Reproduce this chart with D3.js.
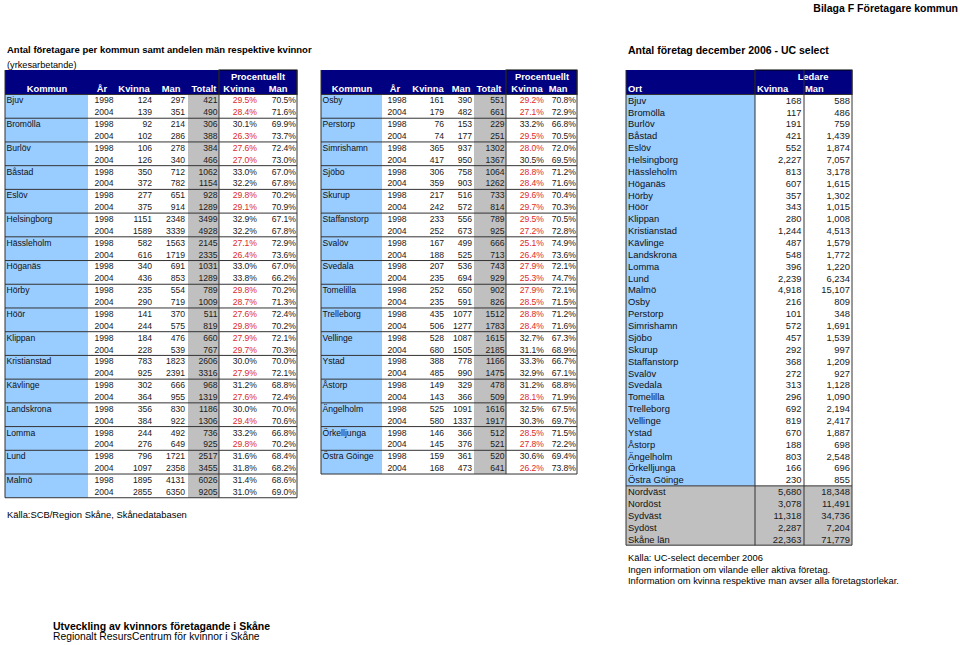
<!DOCTYPE html>
<html>
<head>
<meta charset="utf-8">
<title>Bilaga F Företagare kommun</title>
<script src="https://d3js.org/d3.v7.min.js"></script>
<style>
  body { margin: 0; background: #fff; }
  svg { display: block; font-family: "Liberation Sans", Arial, sans-serif; }
</style>
</head>
<body>
<div id="chart"></div>
<script>
// --- data: företagare per kommun (1998 / 2004 pairs) ---
var years = ["1998", "2004"];

var kommunerA = ["Bjuv", "Bromölla", "Burlöv", "Båstad", "Eslöv", "Helsingborg", "Hässleholm", "Höganäs",
  "Hörby", "Höör", "Klippan", "Kristianstad", "Kävlinge", "Landskrona", "Lomma", "Lund", "Malmö"];
var kvinnaA = [124, 139, 92, 102, 106, 126, 350, 372, 277, 375, 1151, 1589, 582, 616, 340, 436,
  235, 290, 141, 244, 184, 228, 783, 925, 302, 364, 356, 384, 244, 276, 796, 1097, 1895, 2855];
var manA = [297, 351, 214, 286, 278, 340, 712, 782, 651, 914, 2348, 3339, 1563, 1719, 691, 853,
  554, 719, 370, 575, 476, 539, 1823, 2391, 666, 955, 830, 922, 492, 649, 1721, 2358, 4131, 6350];
var totaltA = [421, 490, 306, 388, 384, 466, 1062, 1154, 928, 1289, 3499, 4928, 2145, 2335, 1031, 1289,
  789, 1009, 511, 819, 660, 767, 2606, 3316, 968, 1319, 1186, 1306, 736, 925, 2517, 3455, 6026, 9205];
var pctKvinnaA = [29.5, 28.4, 30.1, 26.3, 27.6, 27.0, 33.0, 32.2, 29.8, 29.1, 32.9, 32.2, 27.1, 26.4, 33.0, 33.8,
  29.8, 28.7, 27.6, 29.8, 27.9, 29.7, 30.0, 27.9, 31.2, 27.6, 30.0, 29.4, 33.2, 29.8, 31.6, 31.8, 31.4, 31.0];
var pctManA = [70.5, 71.6, 69.9, 73.7, 72.4, 73.0, 67.0, 67.8, 70.2, 70.9, 67.1, 67.8, 72.9, 73.6, 67.0, 66.2,
  70.2, 71.3, 72.4, 70.2, 72.1, 70.3, 70.0, 72.1, 68.8, 72.4, 70.0, 70.6, 66.8, 70.2, 68.4, 68.2, 68.6, 69.0];

var kommunerB = ["Osby", "Perstorp", "Simrishamn", "Sjöbo", "Skurup", "Staffanstorp", "Svalöv", "Svedala",
  "Tomelilla", "Trelleborg", "Vellinge", "Ystad", "Åstorp", "Ängelholm", "Örkelljunga", "Östra Göinge"];
var kvinnaB = [161, 179, 76, 74, 365, 417, 306, 359, 217, 242, 233, 252, 167, 188, 207, 235,
  252, 235, 435, 506, 528, 680, 388, 485, 149, 143, 525, 580, 146, 145, 159, 168];
var manB = [390, 482, 153, 177, 937, 950, 758, 903, 516, 572, 556, 673, 499, 525, 536, 694,
  650, 591, 1077, 1277, 1087, 1505, 778, 990, 329, 366, 1091, 1337, 366, 376, 361, 473];
var totaltB = [551, 661, 229, 251, 1302, 1367, 1064, 1262, 733, 814, 789, 925, 666, 713, 743, 929,
  902, 826, 1512, 1783, 1615, 2185, 1166, 1475, 478, 509, 1616, 1917, 512, 521, 520, 641];
var pctKvinnaB = [29.2, 27.1, 33.2, 29.5, 28.0, 30.5, 28.8, 28.4, 29.6, 29.7, 29.5, 27.2, 25.1, 26.4, 27.9, 25.3,
  27.9, 28.5, 28.8, 28.4, 32.7, 31.1, 33.3, 32.9, 31.2, 28.1, 32.5, 30.3, 28.5, 27.8, 30.6, 26.2];
var pctManB = [70.8, 72.9, 66.8, 70.5, 72.0, 69.5, 71.2, 71.6, 70.4, 70.3, 70.5, 72.8, 74.9, 73.6, 72.1, 74.7,
  72.1, 71.5, 71.2, 71.6, 67.3, 68.9, 66.7, 67.1, 68.8, 71.9, 67.5, 69.7, 71.5, 72.2, 69.4, 73.8];

// --- data: UC select, ledare december 2006 ---
var orter = ["Bjuv", "Bromölla", "Burlöv", "Båstad", "Eslöv", "Helsingborg", "Hässleholm", "Höganäs", "Hörby",
  "Höör", "Klippan", "Kristianstad", "Kävlinge", "Landskrona", "Lomma", "Lund", "Malmö", "Osby", "Perstorp",
  "Simrishamn", "Sjöbo", "Skurup", "Staffanstorp", "Svalöv", "Svedala", "Tomelilla", "Trelleborg", "Vellinge",
  "Ystad", "Åstorp", "Ängelholm", "Örkelljunga", "Östra Göinge"];
var ledareKvinna = [168, 117, 191, 421, 552, 2227, 813, 607, 357, 343, 280, 1244, 487, 548, 396, 2239, 4918,
  216, 101, 572, 457, 292, 368, 272, 313, 296, 692, 819, 670, 188, 803, 166, 230];
var ledareMan = [588, 486, 759, 1439, 1874, 7057, 3178, 1615, 1302, 1015, 1008, 4513, 1579, 1772, 1220, 6234,
  15107, 809, 348, 1691, 1539, 997, 1209, 927, 1128, 1090, 2194, 2417, 1887, 698, 2548, 696, 855];
var regioner = ["Nordväst", "Nordöst", "Sydväst", "Sydöst", "Skåne län"];
var regionKvinna = [5680, 3078, 11318, 2287, 22363];
var regionMan = [18348, 11491, 34736, 7204, 71779];

// --- layout ---
var NAVY = "#000080", BLUE = "#99ccff", GRAY = "#c0c0c0", RED = "#dd2a2a", INK = "#1a1a1a";
var ROW_TOP = 94.5, ROW_H = 11.86, HEAD_TOP = 70;

var svg = d3.select("#chart").append("svg")
  .attr("width", 960).attr("height", 645);

svg.append("rect").attr("width", 960).attr("height", 645).attr("fill", "#fff");

function txt(g, x, y, s, size, anchor, weight, fill) {
  return g.append("text")
    .attr("x", x).attr("y", y).attr("dy", "0.35em")
    .attr("font-size", size)
    .attr("text-anchor", anchor || "start")
    .attr("font-weight", weight || "normal")
    .attr("fill", fill || INK)
    .text(s);
}

var fmtPct = function(v) { return d3.format(".1f")(v) + "%"; };
var fmtNum = d3.format(",");

function drawKommunTable(c, names, kv, man, tot, pk, pm) {
  var rows = names.length * 2;
  var y = d3.scaleLinear().domain([0, rows]).range([ROW_TOP, ROW_TOP + rows * ROW_H]);
  var g = svg.append("g");

  // header
  g.append("rect").attr("x", c.x0).attr("y", HEAD_TOP)
    .attr("width", c.x1 - c.x0).attr("height", ROW_TOP - HEAD_TOP).attr("fill", NAVY);
  g.append("rect").attr("x", c.totR).attr("y", HEAD_TOP)
    .attr("width", c.x1 - c.totR).attr("height", ROW_TOP - HEAD_TOP)
    .attr("fill", "none").attr("stroke", "#000").attr("stroke-width", 1);
  txt(g, c.h.proc, 77, "Procentuellt", 9.4, "middle", "bold", "#fff");
  var heads = [["Kommun", c.h.kommun], ["År", c.h.ar], ["Kvinna", c.h.kv], ["Man", c.h.man],
    ["Totalt", c.h.tot], ["Kvinna", c.h.pk], ["Man", c.h.pm]];
  heads.forEach(function(h) { txt(g, h[1], 89, h[0], 9.4, "middle", "bold", "#fff"); });

  // body fills
  g.append("rect").attr("x", c.x0).attr("y", y(0))
    .attr("width", c.nameR - c.x0).attr("height", y(rows) - y(0)).attr("fill", BLUE);
  g.append("rect").attr("x", c.totL).attr("y", y(0))
    .attr("width", c.totR - c.totL).attr("height", y(rows) - y(0)).attr("fill", GRAY);

  // group separators
  g.selectAll("line.grp").data(d3.range(names.length + 1)).join("line")
    .attr("x1", c.x0).attr("x2", c.x1)
    .attr("y1", function(i) { return y(i * 2); }).attr("y2", function(i) { return y(i * 2); })
    .attr("stroke", "#333").attr("stroke-width", 1);
  [c.x0, c.totR, c.x1].forEach(function(x) {
    g.append("line").attr("x1", x).attr("x2", x).attr("y1", HEAD_TOP).attr("y2", y(rows))
      .attr("stroke", "#333").attr("stroke-width", 1);
  });

  // names
  names.forEach(function(n, i) {
    txt(g, c.x0 + 1.5, y(i * 2) + ROW_H / 2, n, 8.6, "start", "normal", "#111");
  });

  d3.range(rows).forEach(function(i) {
    var cy = y(i) + ROW_H / 2;
    txt(g, c.yearC, cy, years[i % 2], 8.6, "middle");
    txt(g, c.kvR, cy, kv[i], 8.6, "end");
    txt(g, c.manR, cy, man[i], 8.6, "end");
    txt(g, c.totR - 1.5, cy, tot[i], 8.6, "end");
    txt(g, c.pkR, cy, fmtPct(pk[i]), 8.6, "end", "normal", pk[i] < 30 ? RED : INK);
    txt(g, c.pmR, cy, fmtPct(pm[i]), 8.6, "end");
  });
}

drawKommunTable({
  x0: 5, nameR: 88, yearC: 104, kvR: 152, manR: 185, totL: 188, totR: 219, pkR: 257, pmR: 296, x1: 297,
  h: { proc: 258, kommun: 47, ar: 102, kv: 134, man: 171, tot: 204, pk: 239, pm: 278 }
}, kommunerA, kvinnaA, manA, totaltA, pctKvinnaA, pctManA);

drawKommunTable({
  x0: 321, nameR: 382, yearC: 397, kvR: 444, manR: 472, totL: 474, totR: 506, pkR: 544, pmR: 576, x1: 577,
  h: { proc: 542, kommun: 352, ar: 395, kv: 428, man: 461, tot: 489, pk: 527, pm: 558 }
}, kommunerB, kvinnaB, manB, totaltB, pctKvinnaB, pctManB);

// --- right table ---
(function() {
  var x0 = 626, xk = 755, xm = 804, x1 = 852;
  var nO = orter.length, rows = nO + regioner.length;
  var y = d3.scaleLinear().domain([0, rows]).range([ROW_TOP, ROW_TOP + rows * ROW_H]);
  var g = svg.append("g");

  g.append("rect").attr("x", x0).attr("y", HEAD_TOP)
    .attr("width", x1 - x0).attr("height", ROW_TOP - HEAD_TOP).attr("fill", NAVY);
  g.append("rect").attr("x", xk).attr("y", HEAD_TOP)
    .attr("width", x1 - xk).attr("height", ROW_TOP - HEAD_TOP)
    .attr("fill", "none").attr("stroke", "#000");
  txt(g, 813, 77, "Ledare", 9.4, "middle", "bold", "#fff");
  txt(g, 628, 89, "Ort", 9.4, "start", "bold", "#fff");
  txt(g, 757, 89, "Kvinna", 9.4, "start", "bold", "#fff");
  txt(g, 805, 89, "Man", 9.4, "start", "bold", "#fff");

  g.append("rect").attr("x", x0).attr("y", y(0))
    .attr("width", xk - x0).attr("height", y(nO) - y(0)).attr("fill", BLUE);
  g.append("rect").attr("x", x0).attr("y", y(nO))
    .attr("width", x1 - x0).attr("height", y(rows) - y(nO)).attr("fill", GRAY);

  [x0, xk, xm, x1].forEach(function(x) {
    g.append("line").attr("x1", x).attr("x2", x).attr("y1", HEAD_TOP).attr("y2", y(rows))
      .attr("stroke", "#333");
  });
  [0, nO, rows].forEach(function(r) {
    g.append("line").attr("x1", x0).attr("x2", x1).attr("y1", y(r)).attr("y2", y(r))
      .attr("stroke", "#333");
  });

  var names = orter.concat(regioner),
    kv = ledareKvinna.concat(regionKvinna),
    man = ledareMan.concat(regionMan);
  d3.range(rows).forEach(function(i) {
    var cy = y(i) + ROW_H / 2;
    txt(g, 628, cy, names[i], 9.4, "start", "normal", "#111");
    txt(g, 801.5, cy, fmtNum(kv[i]), 9.4, "end");
    txt(g, 850, cy, fmtNum(man[i]), 9.4, "end");
  });
})();

// --- titles and notes ---
txt(svg, 958, 8, "Bilaga F Företagare kommun", 10.5, "end", "bold", "#000");
txt(svg, 7, 50, "Antal företagare per kommun samt andelen män respektive kvinnor", 9.5, "start", "bold", "#000");
txt(svg, 7, 65, "(yrkesarbetande)", 9.2, "start", "normal", "#000");
txt(svg, 628, 50, "Antal företag december 2006 - UC select", 10.5, "start", "bold", "#000");
txt(svg, 7, 515, "Källa:SCB/Region Skåne, Skånedatabasen", 9.4, "start", "normal", "#000");
txt(svg, 628, 558, "Källa: UC-select december 2006", 9.4, "start", "normal", "#000");
txt(svg, 628, 569.5, "Ingen information om vilande eller aktiva företag.", 9.4, "start", "normal", "#000");
txt(svg, 628, 581, "Information om kvinna respektive man avser alla företagstorlekar.", 9.4, "start", "normal", "#000");
txt(svg, 53, 626, "Utveckling av kvinnors företagande i Skåne", 10.5, "start", "bold", "#000");
txt(svg, 53, 636, "Regionalt ResursCentrum för kvinnor i Skåne", 10.3, "start", "normal", "#000");
</script>
</body>
</html>
